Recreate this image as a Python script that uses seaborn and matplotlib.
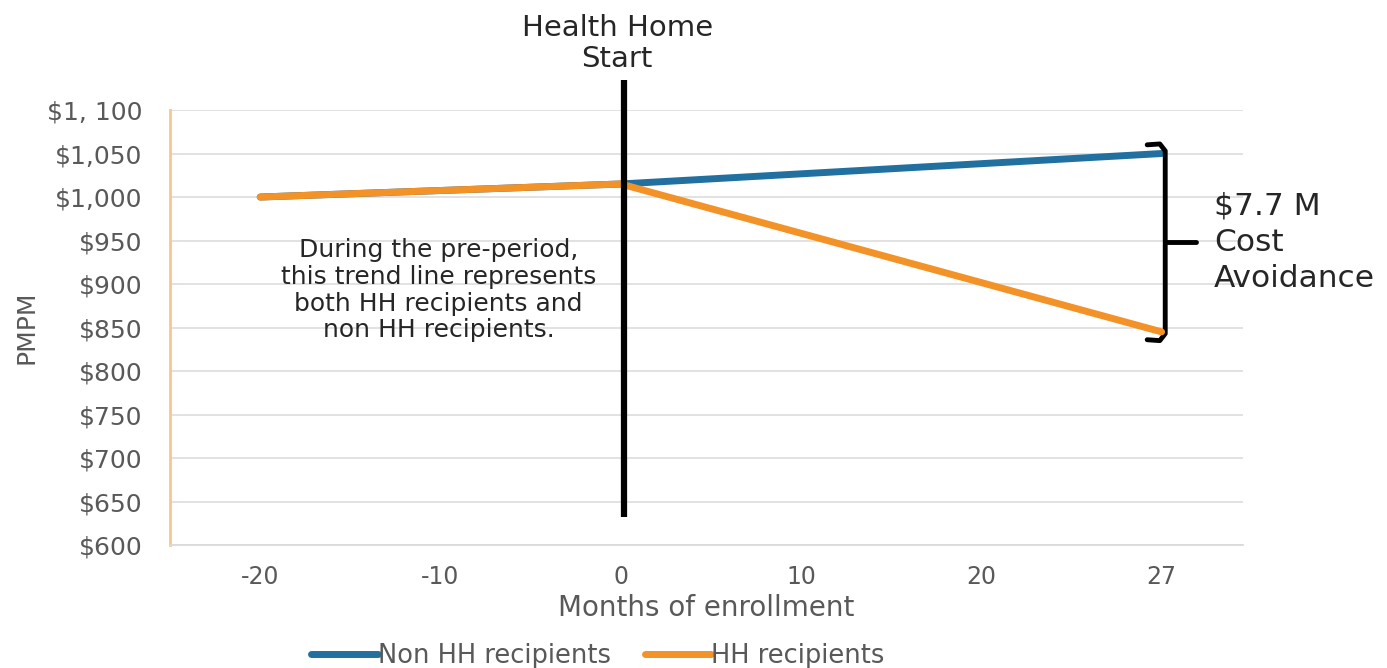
import matplotlib
matplotlib.use("Agg")
import matplotlib.pyplot as plt
import seaborn as sns
import pandas as pd

# Month categories shown on the x axis (evenly spaced)
month_ticks = ["-20", "-10", "0", "10", "20", "27"]

# Per-member-per-month cost trend lines
non_hh_months = ["-20", "0", "27"]
non_hh_pmpm = [1000, 1015, 1050]
hh_months = ["-20", "0", "27"]
hh_pmpm = [1000, 1015, 845]

y_ticks = [600, 650, 700, 750, 800, 850, 900, 950, 1000, 1050, 1100]
y_tick_labels = ["$600", "$650", "$700", "$750", "$800", "$850", "$900",
                 "$950", "$1,000", "$1,050", "$1, 100"]

BLUE = "#21709F"
ORANGE = "#F29227"
GRAY = "#595959"

sns.set_theme(style="white")
plt.rcParams["font.family"] = ["DejaVu Sans"]

pos = {m: i for i, m in enumerate(month_ticks)}
df = pd.concat([
    pd.DataFrame({"x": [pos[m] for m in non_hh_months], "pmpm": non_hh_pmpm,
                  "series": "Non HH recipients"}),
    pd.DataFrame({"x": [pos[m] for m in hh_months], "pmpm": hh_pmpm,
                  "series": "HH recipients"}),
])

fig = plt.figure(figsize=(13.87, 6.68), dpi=100)
ax = fig.add_axes([0.1226, 0.184, 0.896 - 0.1226, 0.8353 - 0.184])

sns.lineplot(data=df, x="x", y="pmpm", hue="series",
             palette={"Non HH recipients": BLUE, "HH recipients": ORANGE},
             hue_order=["Non HH recipients", "HH recipients"],
             linewidth=5, ax=ax, legend=False, sort=False)
# keep the orange pre-period segment on top
ax.lines[1].set_zorder(3)
ax.lines[0].set_zorder(2)

ax.set_xlim(-0.5, 5.45)
ax.set_ylim(600, 1100)
ax.set_xticks(range(len(month_ticks)))
ax.set_xticklabels(month_ticks)
ax.set_yticks(y_ticks)
ax.set_yticklabels(y_tick_labels)
ax.tick_params(axis="both", length=0, colors=GRAY)
ax.tick_params(axis="y", pad=20, labelsize=18)
ax.tick_params(axis="x", pad=14, labelsize=17)
ax.yaxis.grid(True, color="#DDDDDD", linewidth=1.2)
ax.xaxis.grid(False)
for side in ["top", "right"]:
    ax.spines[side].set_visible(False)
ax.spines["bottom"].set_color("#D9D9D9")
ax.spines["left"].set_color("#F7C58E")
ax.spines["left"].set_linewidth(2)

ax.set_xlabel("Months of enrollment", color=GRAY, fontsize=20, labelpad=4)
ax.set_ylabel("PMPM", color=GRAY, fontsize=18)
ax.yaxis.set_label_coords(-0.123, 0.5)

# Health Home start marker
start = pos["0"]
ax.plot([start + 0.02, start + 0.02], [632, 1135], color="black",
        linewidth=4.5, clip_on=False, zorder=5, solid_capstyle="butt")
ax.text(start - 0.02, 1142, "Health Home\nStart", ha="center", va="bottom",
        fontsize=21, color="#262626", linespacing=1.15, clip_on=False)

ax.text(0.99, 893, "During the pre-period,\nthis trend line represents\n"
        "both HH recipients and\nnon HH recipients.",
        ha="center", va="center", fontsize=18, color="#262626",
        linespacing=1.15)

# Bracket spanning the gap between the two end points
end = pos["27"]
top = non_hh_pmpm[-1] + 10
bot = hh_pmpm[-1] - 9
mid = (top + bot) / 2
bx = end + 0.02
ax.plot([bx - 0.1, bx - 0.03, bx, bx, bx - 0.03, bx - 0.1],
        [top, top + 1, top - 7, bot + 7, bot - 1, bot],
        color="black", linewidth=3.5, clip_on=False, solid_joinstyle="round",
        solid_capstyle="round")
ax.plot([bx, bx + 0.17], [mid, mid], color="black", linewidth=3.5,
        clip_on=False)
ax.text(end + 0.29, mid, "$7.7 M\nCost\nAvoidance", ha="left", va="center",
        fontsize=22.5, color="#262626", linespacing=1.3, clip_on=False)

handles = [plt.Line2D([], [], color=BLUE, linewidth=5),
           plt.Line2D([], [], color=ORANGE, linewidth=5)]
fig.legend(handles, ["Non HH recipients", "HH recipients"], loc="center",
           bbox_to_anchor=(598 / 1387, 1 - 656 / 668), ncol=2, frameon=False,
           fontsize=18.5, labelcolor=GRAY, handlelength=2.6, handletextpad=0.0,
           columnspacing=1.3)

fig.savefig("out.png", dpi=100, facecolor="white")
